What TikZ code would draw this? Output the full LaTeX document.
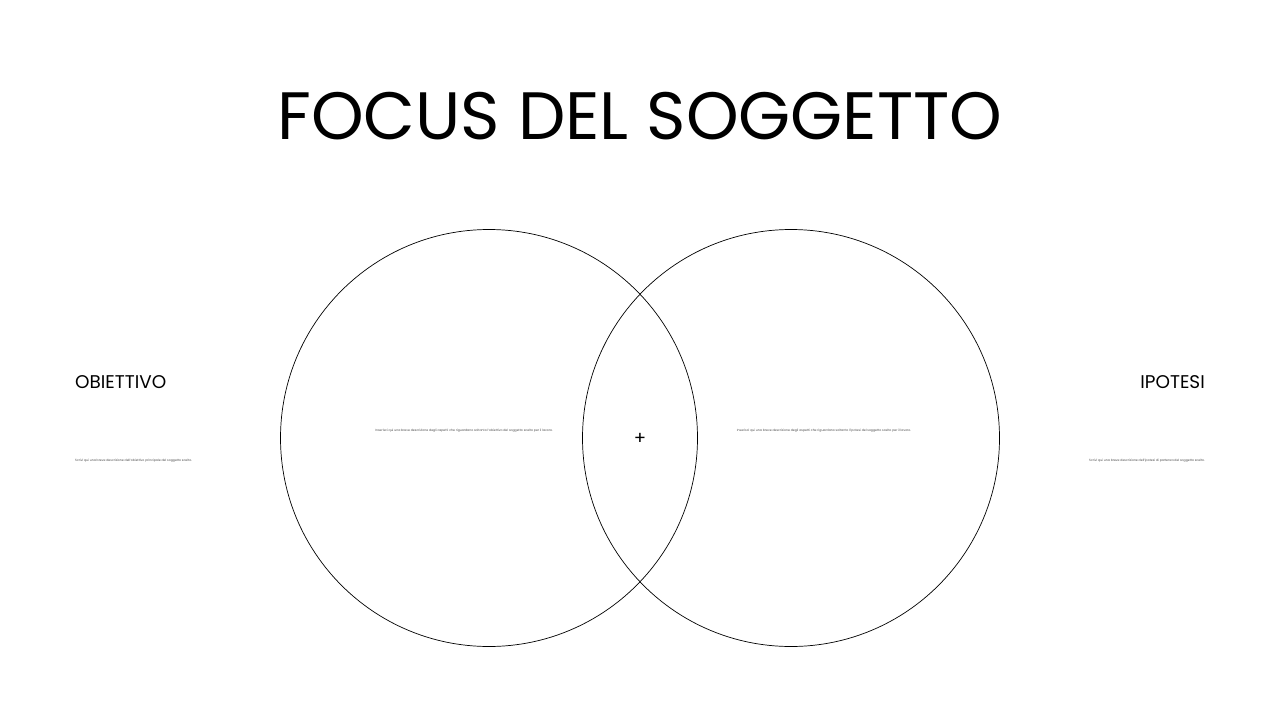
\documentclass[tikz,border=0pt]{standalone}
\usepackage{fontspec}
\setmainfont{Poppins}
\begin{document}
\begin{tikzpicture}[x=1pt,y=-1pt]
\tikzset{
  ring/.style={draw=black,line width=0.7pt,circle,minimum size=417pt,inner sep=0pt},
  heading/.style={font=\fontsize{18.4}{20}\selectfont,inner sep=0pt},
  tiny/.style={font=\fontsize{3.1}{3.5}\selectfont,inner sep=0pt,text=black!70}
}
\path[use as bounding box,fill=white] (0,0) rectangle (1280,720);
\node[inner sep=0pt,font=\fontsize{67}{75}\selectfont] (title) at (640,116) {FOCUS DEL SOGGETTO};
\node[ring] (left) at (489,438) {};
\node[ring] (right) at (791,438) {};
\node[inner sep=0pt,font=\fontsize{18}{20}\selectfont] (plus) at (640,438.5) {+};
\node[heading,anchor=base west] (obj) at (75,388) {OBIETTIVO};
\node[heading,anchor=base east] (ipo) at (1205,388) {IPOTESI};
\node[tiny,anchor=west] (objtext) at (75,460.5) {Scrivi qui una breve descrizione dell'obiettivo principale del soggetto scelto.};
\node[tiny,anchor=east] (ipotext) at (1205,460.5) {Scrivi qui una breve descrizione dell'ipotesi di partenza del soggetto scelto.};
\node[tiny] (lefttext) at (464,431) {Inserisci qui una breve descrizione degli aspetti che riguardano soltanto l'obiettivo del soggetto scelto per il lavoro.};
\node[tiny] (righttext) at (824,431) {Inserisci qui una breve descrizione degli aspetti che riguardano soltanto l'ipotesi del soggetto scelto per il lavoro.};
\end{tikzpicture}
\end{document}
